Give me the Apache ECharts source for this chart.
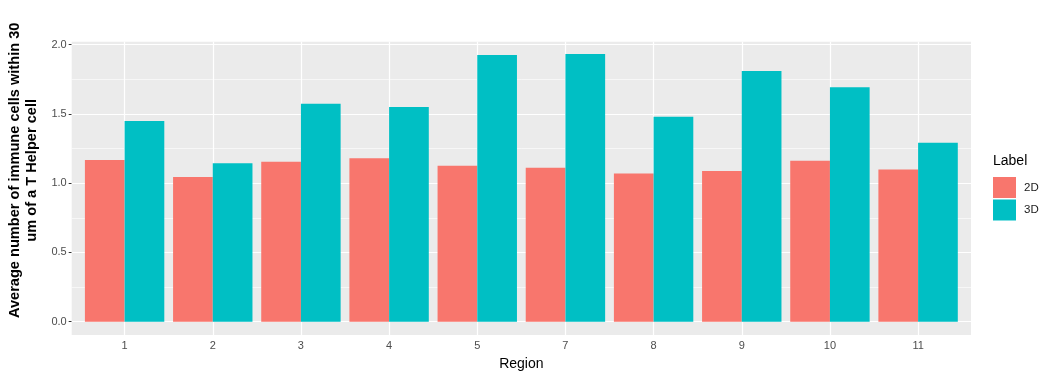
<!DOCTYPE html>
<html>
<head>
<meta charset="utf-8">
<script src="https://cdn.jsdelivr.net/npm/echarts@6/dist/echarts.min.js"></script>
<style>
html,body{margin:0;padding:0;background:#fff;}
#chart{width:1052px;height:380px;}
</style>
</head>
<body>
<div id="chart"></div>
<script>
// ---- data ----
const categories = ['1', '2', '3', '4', '5', '7', '8', '9', '10', '11'];
const values2D = [1.167, 1.045, 1.155, 1.180, 1.126, 1.112, 1.070, 1.087, 1.162, 1.098];
const values3D = [1.449, 1.144, 1.573, 1.550, 1.926, 1.932, 1.480, 1.810, 1.692, 1.292];
const yTicks = [0, 0.5, 1.0, 1.5, 2.0];
const yMinor = [0.25, 0.75, 1.25, 1.75];
const seriesNames = ['2D', '3D'];

const FONT = "'Liberation Sans', Arial, sans-serif";
const positions = categories.map((c, i) => i + 1);

const gridLines = []
  .concat(yTicks.map(v => ({ yAxis: v, lineStyle: { color: '#FFFFFF', width: 1.2, type: 'solid' } })))
  .concat(yMinor.map(v => ({ yAxis: v, lineStyle: { color: '#FFFFFF', width: 0.6, type: 'solid' } })))
  .concat(positions.map(v => ({ xAxis: v, lineStyle: { color: '#FFFFFF', width: 1.2, type: 'solid' } })));

const chart = echarts.init(document.getElementById('chart'), null, { renderer: 'canvas' });
chart.setOption({
  animation: false,
  textStyle: { fontFamily: FONT },
  title: {
    text: 'Label', left: 993, top: 154, padding: 0,
    textStyle: { fontFamily: FONT, fontSize: 14, fontWeight: 'normal', color: '#000000' }
  },
  legend: {
    data: seriesNames,
    orient: 'vertical', left: 993, top: 177, padding: 0,
    itemWidth: 23, itemHeight: 21, itemGap: 1.5, icon: 'rect',
    textStyle: { fontFamily: FONT, fontSize: 11.5, color: '#1A1A1A', padding: [0, 0, 0, 3] }
  },
  grid: {
    left: 71.7, right: 81, top: 41.7, bottom: 45,
    show: true, backgroundColor: '#EBEBEB', borderWidth: 0, containLabel: false,
    outerBoundsMode: 'none'
  },
  xAxis: {
    type: 'value', min: 0.4, max: 10.6,
    name: 'Region', nameLocation: 'middle', nameGap: 22,
    nameTextStyle: { fontFamily: FONT, fontSize: 14, color: '#000000' },
    axisLine: { show: false },
    axisTick: { show: true, customValues: positions, length: 3, lineStyle: { color: '#333333', width: 1 } },
    axisLabel: {
      customValues: positions, margin: 5, color: '#4D4D4D', fontSize: 11, fontFamily: FONT,
      formatter: v => categories[Math.round(v) - 1]
    },
    splitLine: { show: false }
  },
  yAxis: {
    type: 'value', min: -0.0963, max: 2.0213,
    name: 'Average number of immune cells within 30\num of a T Helper cell',
    nameLocation: 'middle', nameGap: 25, nameRotate: 90,
    nameTextStyle: {
      fontFamily: FONT, fontSize: 14.6, fontWeight: 'bold', color: '#000000',
      lineHeight: 17, align: 'center', padding: [0, 0, 0, 36]
    },
    axisLine: { show: false },
    axisTick: { show: true, customValues: yTicks, length: 3, lineStyle: { color: '#333333', width: 1 } },
    axisLabel: {
      customValues: yTicks, margin: 5, color: '#4D4D4D', fontSize: 11, fontFamily: FONT,
      formatter: v => v.toFixed(1)
    },
    splitLine: { show: false }
  },
  series: [
    {
      type: 'line', data: [], z: 1, silent: true,
      markLine: { silent: true, symbol: 'none', z: 1, label: { show: false }, animation: false, data: gridLines }
    },
    {
      name: seriesNames[0], type: 'bar', z: 3, barWidth: 39.7, barGap: '0%',
      itemStyle: { color: '#F8766D' },
      data: positions.map((x, i) => [x, values2D[i]])
    },
    {
      name: seriesNames[1], type: 'bar', z: 3, barWidth: 39.7, barGap: '0%',
      itemStyle: { color: '#00BFC4' },
      data: positions.map((x, i) => [x, values3D[i]])
    }
  ]
});
</script>
</body>
</html>
